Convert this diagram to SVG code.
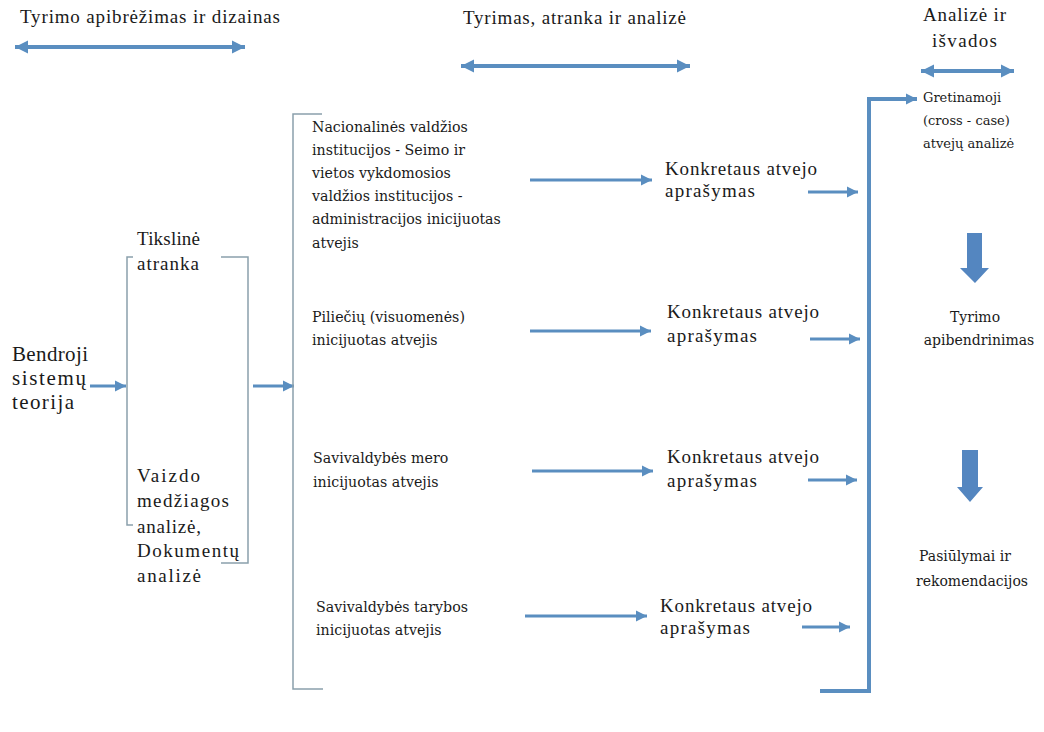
<svg xmlns="http://www.w3.org/2000/svg" width="1044" height="732" viewBox="0 0 1044 732">
<defs>
<style>
.hd{font-family:"Liberation Serif","Times New Roman",serif;font-size:19px;fill:#1a1a1a}
.big{font-family:"Liberation Serif","Times New Roman",serif;font-size:21px;fill:#1a1a1a}
.mid{font-family:"Liberation Serif","Times New Roman",serif;font-size:19px;fill:#1a1a1a}
.col{font-family:"DejaVu Serif",serif;font-size:14.2px;fill:#1a1a1a}
.rc{font-family:"DejaVu Serif",serif;font-size:13px;fill:#1a1a1a}
.rc2{font-family:"DejaVu Serif",serif;font-size:14px;fill:#1a1a1a}
.arr{fill:none;stroke:#5a8ec0;stroke-width:4}
.arrs{fill:none;stroke:#5a8ec0;stroke-width:3}
.brk{fill:none;stroke:#8aa0ac;stroke-width:1.5}
.blk{fill:#5486c0}
</style>
<marker id="ah" markerUnits="userSpaceOnUse" markerWidth="14" markerHeight="14" refX="13" refY="7" orient="auto-start-reverse" viewBox="0 0 14 14"><path d="M0,0.5 L13,7 L0,13.5 Z" fill="#5a8ec0"/></marker>
<marker id="ahs" markerUnits="userSpaceOnUse" markerWidth="12" markerHeight="12" refX="11" refY="6" orient="auto" viewBox="0 0 12 12"><path d="M0,0.5 L11,6 L0,11.5 Z" fill="#5a8ec0"/></marker>
</defs>
<rect width="1044" height="732" fill="#ffffff"/>

<g id="phase-labels">
<text class="hd" x="20" y="23" textLength="260" lengthAdjust="spacing">Tyrimo apibrėžimas ir dizainas</text>
<text class="hd" x="463" y="24" textLength="223" lengthAdjust="spacing">Tyrimas, atranka ir analizė</text>
<text class="hd" x="923" y="21" textLength="83" lengthAdjust="spacing">Analizė ir</text>
<text class="hd" x="932" y="47" textLength="65" lengthAdjust="spacing">išvados</text>
</g>

<g id="connectors">
<path class="arr" d="M15,47 H245" marker-start="url(#ah)" marker-end="url(#ah)"/>
<path class="arr" d="M461,66 H690" marker-start="url(#ah)" marker-end="url(#ah)"/>
<path class="arr" d="M921,71 H1014" marker-start="url(#ah)" marker-end="url(#ah)"/>
<path class="arrs" d="M90,386 H126" marker-end="url(#ahs)"/>
<path class="arrs" d="M253,386 H294" marker-end="url(#ahs)"/>
<path class="arrs" d="M530,180 H652" marker-end="url(#ahs)"/>
<path class="arrs" d="M530,331 H651" marker-end="url(#ahs)"/>
<path class="arrs" d="M532,471 H653" marker-end="url(#ahs)"/>
<path class="arrs" d="M525,616 H647" marker-end="url(#ahs)"/>
<path class="arrs" d="M808,192 H858" marker-end="url(#ahs)"/>
<path class="arrs" d="M810,339 H860" marker-end="url(#ahs)"/>
<path class="arrs" d="M808,480 H857" marker-end="url(#ahs)"/>
<path class="arrs" d="M802,627 H850" marker-end="url(#ahs)"/>
<path class="arr" d="M820,691 H869 V99 H917" marker-end="url(#ahs)"/>
<polygon class="blk" points="967,233 982,233 982,268 989,268 975,283 960,268 967,268"/>
<polygon class="blk" points="962,450 978,450 978,487 983,487 970,502 957,487 962,487"/>
</g>

<g id="n-bendroji">
<text class="big" x="12" y="361" textLength="76" lengthAdjust="spacing">Bendroji</text>
<text class="big" x="12" y="385" textLength="74" lengthAdjust="spacing">sistemų</text>
<text class="big" x="12" y="409" textLength="62" lengthAdjust="spacing">teorija</text>
</g>

<g id="n-methods">
<path class="brk" d="M133,257 H127 V525 H133"/>
<path class="brk" d="M221,257 H248 V563 H221"/>
<text class="mid" x="137" y="245" textLength="63" lengthAdjust="spacing">Tikslinė</text>
<text class="mid" x="137" y="270" textLength="62" lengthAdjust="spacing">atranka</text>
<text class="mid" x="137" y="482" textLength="63" lengthAdjust="spacing">Vaizdo</text>
<text class="mid" x="137" y="507" textLength="92" lengthAdjust="spacing">medžiagos</text>
<text class="mid" x="137" y="533" textLength="64" lengthAdjust="spacing">analizė,</text>
<text class="mid" x="137" y="557" textLength="102" lengthAdjust="spacing">Dokumentų</text>
<text class="mid" x="137" y="582" textLength="64" lengthAdjust="spacing">analizė</text>
</g>

<g id="n-cases">
<path class="brk" d="M322,114 H293 V689 H323"/>
<text class="col" x="312" y="132">Nacionalinės valdžios</text>
<text class="col" x="312" y="155">institucijos - Seimo ir</text>
<text class="col" x="312" y="178">vietos vykdomosios</text>
<text class="col" x="312" y="201">valdžios institucijos -</text>
<text class="col" x="312" y="224">administracijos inicijuotas</text>
<text class="col" x="312" y="248">atvejis</text>
<text class="col" x="312" y="322">Piliečių (visuomenės)</text>
<text class="col" x="312" y="345">inicijuotas atvejis</text>
<text class="col" x="313" y="463">Savivaldybės mero</text>
<text class="col" x="313" y="487">inicijuotas atvejis</text>
<text class="col" x="316" y="612">Savivaldybės tarybos</text>
<text class="col" x="316" y="635">inicijuotas atvejis</text>
</g>

<g id="n-desc1">
<text class="mid" x="665" y="175" textLength="152" lengthAdjust="spacing">Konkretaus atvejo</text>
<text class="mid" x="665" y="197" textLength="90" lengthAdjust="spacing">aprašymas</text>
</g>
<g id="n-desc2">
<text class="mid" x="667" y="318" textLength="152" lengthAdjust="spacing">Konkretaus atvejo</text>
<text class="mid" x="667" y="342" textLength="90" lengthAdjust="spacing">aprašymas</text>
</g>
<g id="n-desc3">
<text class="mid" x="667" y="463" textLength="152" lengthAdjust="spacing">Konkretaus atvejo</text>
<text class="mid" x="667" y="487" textLength="90" lengthAdjust="spacing">aprašymas</text>
</g>
<g id="n-desc4">
<text class="mid" x="660" y="612" textLength="152" lengthAdjust="spacing">Konkretaus atvejo</text>
<text class="mid" x="660" y="634" textLength="90" lengthAdjust="spacing">aprašymas</text>
</g>

<g id="n-crosscase">
<text class="rc" x="923" y="102">Gretinamoji</text>
<text class="rc" x="923" y="125">(cross - case)</text>
<text class="rc" x="923" y="148">atvejų analizė</text>
</g>
<g id="n-generalisation">
<text class="rc2" x="975" y="322" text-anchor="middle">Tyrimo</text>
<text class="rc2" x="979" y="345" text-anchor="middle">apibendrinimas</text>
</g>
<g id="n-proposals">
<text class="rc2" x="965" y="561" text-anchor="middle">Pasiūlymai ir</text>
<text class="rc2" x="972" y="586" text-anchor="middle">rekomendacijos</text>
</g>
</svg>
